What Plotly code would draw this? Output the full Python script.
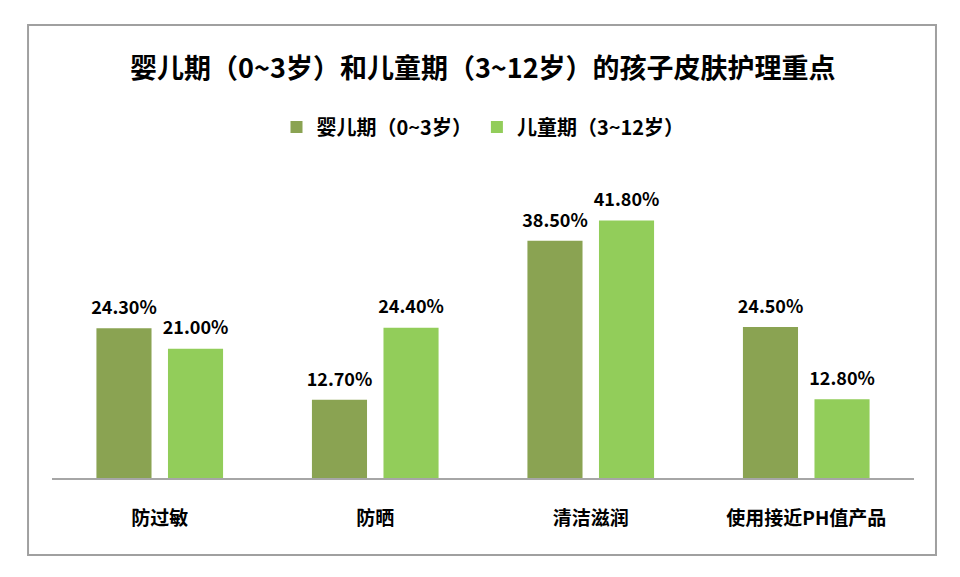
import plotly.graph_objects as go

categories = ["防过敏", "防晒", "清洁滋润", "使用接近PH值产品"]
infant = [24.3, 12.7, 38.5, 24.5]
child = [21.0, 24.4, 41.8, 12.8]
series_names = ["婴儿期（0~3岁）", "儿童期（3~12岁）"]
title_text = "婴儿期（0~3岁）和儿童期（3~12岁）的孩子皮肤护理重点"

FONT = "Noto Sans CJK SC"
colors = ["#8AA352", "#92CD5A"]

fig = go.Figure()
for i, (name, vals, col) in enumerate(zip(series_names, [infant, child], colors)):
    fig.add_trace(go.Bar(
        x=categories, y=vals, name=name,
        marker=dict(color=col, line=dict(width=0)),
        offsetgroup=str(i), alignmentgroup="a",
        hoverinfo="skip",
    ))
for i, vals in enumerate([infant, child]):
    fig.add_trace(go.Scatter(
        x=categories, y=vals, mode="text+markers",
        marker=dict(size=14, opacity=0),
        text=[f"{v:.2f}%" for v in vals],
        textposition="top center",
        textfont=dict(family=FONT, size=18, color="#000000", weight="bold"),
        offsetgroup=str(i), alignmentgroup="a",
        showlegend=False, cliponaxis=False, hoverinfo="skip",
    ))

fig.update_layout(
    width=960, height=577,
    margin=dict(l=52, r=46, t=170, b=99),
    paper_bgcolor="white", plot_bgcolor="white",
    barmode="group", bargap=0.336, bargroupgap=0.23,
    scattermode="group", scattergap=0.336,
    title=dict(text=f"<b>{title_text}</b>", x=0.503, xanchor="center",
               y=0.882, yanchor="middle",
               font=dict(family=FONT, size=27, color="#000000")),
    legend=dict(orientation="h", x=0.5, xanchor="center", y=1.14, yanchor="middle",
                font=dict(family=FONT, size=20, color="#000000", weight="bold"),
                itemwidth=30, itemsizing="constant", traceorder="normal"),
    showlegend=True,
    font=dict(family=FONT),
)
fig.update_xaxes(showline=True, linecolor="#A6A6A6", linewidth=1.5,
                 showgrid=False, zeroline=False, ticks="",
                 ticklabelstandoff=22,
                 tickfont=dict(family=FONT, size=19, color="#000000", weight="bold"))
fig.update_yaxes(range=[0, 50], visible=False, showgrid=False, zeroline=False)

fig.add_shape(type="rect", xref="paper", yref="paper",
              x0=-0.0278, x1=1.0255, y0=-0.25, y1=1.4708,
              line=dict(color="#A0A0A0", width=2), fillcolor="rgba(0,0,0,0)", layer="below")

fig.write_html("out.html")
